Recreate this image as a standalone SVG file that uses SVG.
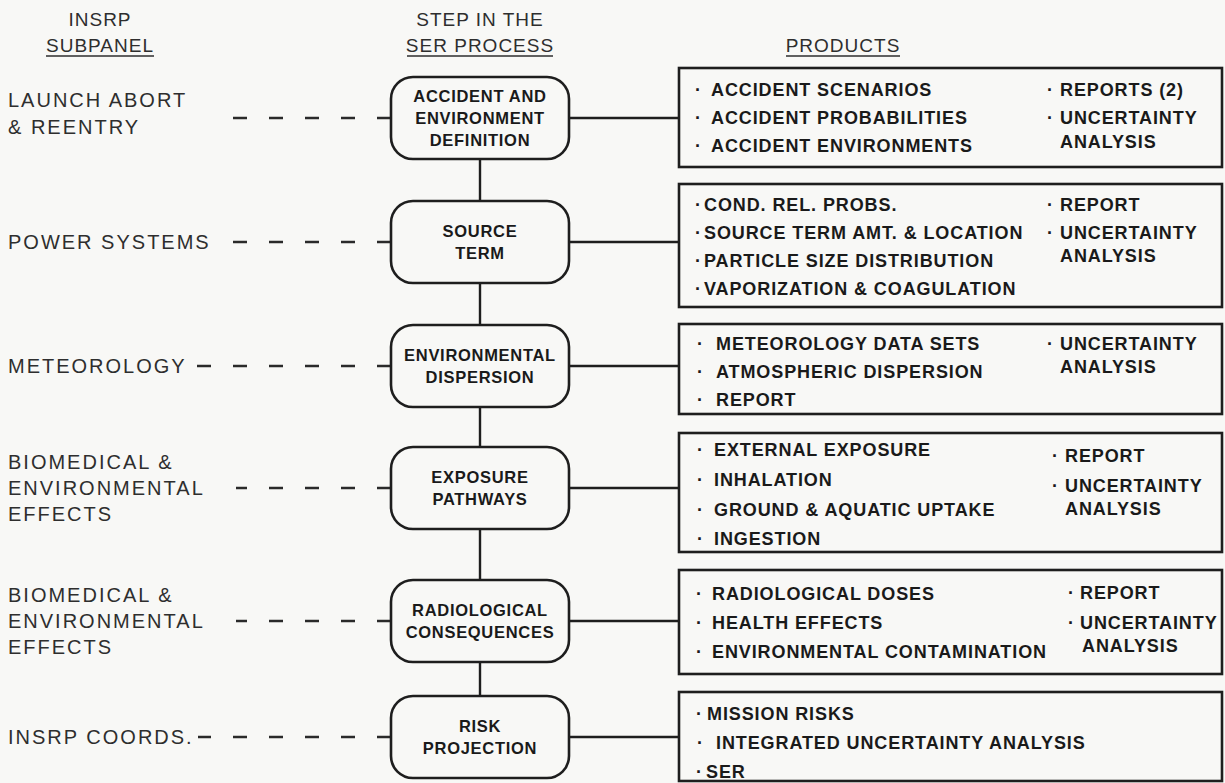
<svg xmlns="http://www.w3.org/2000/svg" width="1225" height="783" viewBox="0 0 1225 783">
<style>
.hdr{font-family:"Liberation Sans",Arial,Helvetica,sans-serif;font-size:19px;fill:#2e2e2e;letter-spacing:1px;text-anchor:middle}
.lbl{font-family:"Liberation Sans",Arial,Helvetica,sans-serif;font-size:20px;fill:#2e2e2e;letter-spacing:2px}
.stp{font-family:"Liberation Sans",Arial,Helvetica,sans-serif;font-size:16.5px;font-weight:bold;fill:#1a1a1a;letter-spacing:0.7px;text-anchor:middle}
.prd{font-family:"Liberation Sans",Arial,Helvetica,sans-serif;font-size:18px;font-weight:bold;fill:#1a1a1a;letter-spacing:0.9px}
.sbox{fill:none;stroke:#1e1e1e;stroke-width:2.6}
.pbox{fill:none;stroke:#1e1e1e;stroke-width:2.6}
.solid{stroke:#1e1e1e;stroke-width:2.4;fill:none}
.dash{stroke:#2a2a2a;stroke-width:2.4;fill:none;stroke-dasharray:14 22}
.ul{stroke:#2e2e2e;stroke-width:1.6}
</style>
<rect x="0" y="0" width="1225" height="783" fill="#f8f8f6"/>

<g id="headers">
<text class="hdr" x="100" y="26">INSRP</text>
<text class="hdr" x="100" y="52">SUBPANEL</text>
<line class="ul" x1="46" y1="56" x2="154" y2="56"/>
<text class="hdr" x="480" y="26">STEP IN THE</text>
<text class="hdr" x="480" y="52">SER PROCESS</text>
<line class="ul" x1="407" y1="56" x2="553" y2="56"/>
<text class="hdr" x="843" y="52">PRODUCTS</text>
<line class="ul" x1="786" y1="56" x2="900" y2="56"/>
</g>

<g id="connectors">
<line class="solid" x1="480" y1="159" x2="480" y2="201"/>
<line class="solid" x1="480" y1="283" x2="480" y2="325"/>
<line class="solid" x1="480" y1="407" x2="480" y2="447"/>
<line class="solid" x1="480" y1="529" x2="480" y2="580"/>
<line class="solid" x1="480" y1="662" x2="480" y2="696"/>
<line class="solid" x1="569" y1="118" x2="679" y2="118"/>
<line class="solid" x1="569" y1="242" x2="679" y2="242"/>
<line class="solid" x1="569" y1="366" x2="679" y2="366"/>
<line class="solid" x1="569" y1="488" x2="679" y2="488"/>
<line class="solid" x1="569" y1="621" x2="679" y2="621"/>
<line class="solid" x1="569" y1="737" x2="679" y2="737"/>
<line class="dash" x1="391" y1="118" x2="216" y2="118"/>
<line class="dash" x1="391" y1="242" x2="232" y2="242"/>
<line class="dash" x1="391" y1="366" x2="188" y2="366"/>
<line class="dash" x1="391" y1="488" x2="236" y2="488"/>
<line class="dash" x1="391" y1="621" x2="236" y2="621"/>
<line class="dash" x1="391" y1="737" x2="198" y2="737"/>
</g>

<g id="subpanel-1"><text class="lbl" x="8" y="107">LAUNCH ABORT</text><text class="lbl" x="8" y="134">&amp; REENTRY</text></g>
<g id="subpanel-2"><text class="lbl" x="8" y="249">POWER SYSTEMS</text></g>
<g id="subpanel-3"><text class="lbl" x="8" y="373">METEOROLOGY</text></g>
<g id="subpanel-4"><text class="lbl" x="8" y="469">BIOMEDICAL &amp;</text><text class="lbl" x="8" y="495">ENVIRONMENTAL</text><text class="lbl" x="8" y="521">EFFECTS</text></g>
<g id="subpanel-5"><text class="lbl" x="8" y="602">BIOMEDICAL &amp;</text><text class="lbl" x="8" y="628">ENVIRONMENTAL</text><text class="lbl" x="8" y="654">EFFECTS</text></g>
<g id="subpanel-6"><text class="lbl" x="8" y="744">INSRP COORDS.</text></g>

<g id="step-1"><rect class="sbox" x="391" y="77" width="178" height="82" rx="22"/><text class="stp" x="480" y="102">ACCIDENT AND</text><text class="stp" x="480" y="124">ENVIRONMENT</text><text class="stp" x="480" y="146">DEFINITION</text></g>
<g id="step-2"><rect class="sbox" x="391" y="201" width="178" height="82" rx="22"/><text class="stp" x="480" y="237">SOURCE</text><text class="stp" x="480" y="259">TERM</text></g>
<g id="step-3"><rect class="sbox" x="391" y="325" width="178" height="82" rx="22"/><text class="stp" x="480" y="361">ENVIRONMENTAL</text><text class="stp" x="480" y="383">DISPERSION</text></g>
<g id="step-4"><rect class="sbox" x="391" y="447" width="178" height="82" rx="22"/><text class="stp" x="480" y="483">EXPOSURE</text><text class="stp" x="480" y="505">PATHWAYS</text></g>
<g id="step-5"><rect class="sbox" x="391" y="580" width="178" height="82" rx="22"/><text class="stp" x="480" y="616">RADIOLOGICAL</text><text class="stp" x="480" y="638">CONSEQUENCES</text></g>
<g id="step-6"><rect class="sbox" x="391" y="696" width="178" height="82" rx="22"/><text class="stp" x="480" y="732">RISK</text><text class="stp" x="480" y="754">PROJECTION</text></g>

<g id="products-1"><rect class="pbox" x="679" y="68" width="543" height="99"/>
<text class="prd" y="95.5"><tspan x="695">·</tspan><tspan x="711">ACCIDENT SCENARIOS</tspan></text>
<text class="prd" y="123.5"><tspan x="695">·</tspan><tspan x="711">ACCIDENT PROBABILITIES</tspan></text>
<text class="prd" y="151.5"><tspan x="695">·</tspan><tspan x="711">ACCIDENT ENVIRONMENTS</tspan></text>
<text class="prd" y="95.5"><tspan x="1047">·</tspan><tspan x="1060">REPORTS (2)</tspan></text>
<text class="prd" y="123.5"><tspan x="1047">·</tspan><tspan x="1060">UNCERTAINTY</tspan></text>
<text class="prd" x="1060" y="148">ANALYSIS</text>
</g>
<g id="products-2"><rect class="pbox" x="679" y="184" width="543" height="123"/>
<text class="prd" y="210.5"><tspan x="695">·</tspan><tspan x="704">COND. REL. PROBS.</tspan></text>
<text class="prd" y="238.5"><tspan x="695">·</tspan><tspan x="704">SOURCE TERM AMT. &amp; LOCATION</tspan></text>
<text class="prd" y="266.5"><tspan x="695">·</tspan><tspan x="704">PARTICLE SIZE DISTRIBUTION</tspan></text>
<text class="prd" y="294.5"><tspan x="695">·</tspan><tspan x="704">VAPORIZATION &amp; COAGULATION</tspan></text>
<text class="prd" y="210.5"><tspan x="1047">·</tspan><tspan x="1060">REPORT</tspan></text>
<text class="prd" y="238.5"><tspan x="1047">·</tspan><tspan x="1060">UNCERTAINTY</tspan></text>
<text class="prd" x="1060" y="262">ANALYSIS</text>
</g>
<g id="products-3"><rect class="pbox" x="679" y="324" width="543" height="90"/>
<text class="prd" y="349.5"><tspan x="697">·</tspan><tspan x="716">METEOROLOGY DATA SETS</tspan></text>
<text class="prd" y="377.5"><tspan x="697">·</tspan><tspan x="716">ATMOSPHERIC DISPERSION</tspan></text>
<text class="prd" y="405.5"><tspan x="697">·</tspan><tspan x="716">REPORT</tspan></text>
<text class="prd" y="349.5"><tspan x="1047">·</tspan><tspan x="1060">UNCERTAINTY</tspan></text>
<text class="prd" x="1060" y="373">ANALYSIS</text>
</g>
<g id="products-4"><rect class="pbox" x="679" y="433" width="543" height="119"/>
<text class="prd" y="455.5"><tspan x="697">·</tspan><tspan x="714">EXTERNAL EXPOSURE</tspan></text>
<text class="prd" y="485.5"><tspan x="697">·</tspan><tspan x="714">INHALATION</tspan></text>
<text class="prd" y="515.5"><tspan x="697">·</tspan><tspan x="714">GROUND &amp; AQUATIC UPTAKE</tspan></text>
<text class="prd" y="544.5"><tspan x="697">·</tspan><tspan x="714">INGESTION</tspan></text>
<text class="prd" y="461.5"><tspan x="1052">·</tspan><tspan x="1065">REPORT</tspan></text>
<text class="prd" y="491.5"><tspan x="1052">·</tspan><tspan x="1065">UNCERTAINTY</tspan></text>
<text class="prd" x="1065" y="515">ANALYSIS</text>
</g>
<g id="products-5"><rect class="pbox" x="679" y="570" width="543" height="104"/>
<text class="prd" y="599.5"><tspan x="696">·</tspan><tspan x="712">RADIOLOGICAL DOSES</tspan></text>
<text class="prd" y="628.5"><tspan x="696">·</tspan><tspan x="712">HEALTH EFFECTS</tspan></text>
<text class="prd" y="657.5"><tspan x="696">·</tspan><tspan x="712">ENVIRONMENTAL CONTAMINATION</tspan></text>
<text class="prd" y="599"><tspan x="1068">·</tspan><tspan x="1080">REPORT</tspan></text>
<text class="prd" y="628.5"><tspan x="1068">·</tspan><tspan x="1080">UNCERTAINTY</tspan></text>
<text class="prd" x="1082" y="652">ANALYSIS</text>
</g>
<g id="products-6"><rect class="pbox" x="679" y="692" width="543" height="89"/>
<text class="prd" y="719.5"><tspan x="696">·</tspan><tspan x="707">MISSION RISKS</tspan></text>
<text class="prd" y="748.5"><tspan x="697">·</tspan><tspan x="716">INTEGRATED UNCERTAINTY ANALYSIS</tspan></text>
<text class="prd" y="777.5"><tspan x="696">·</tspan><tspan x="706">SER</tspan></text>
</g>
</svg>
